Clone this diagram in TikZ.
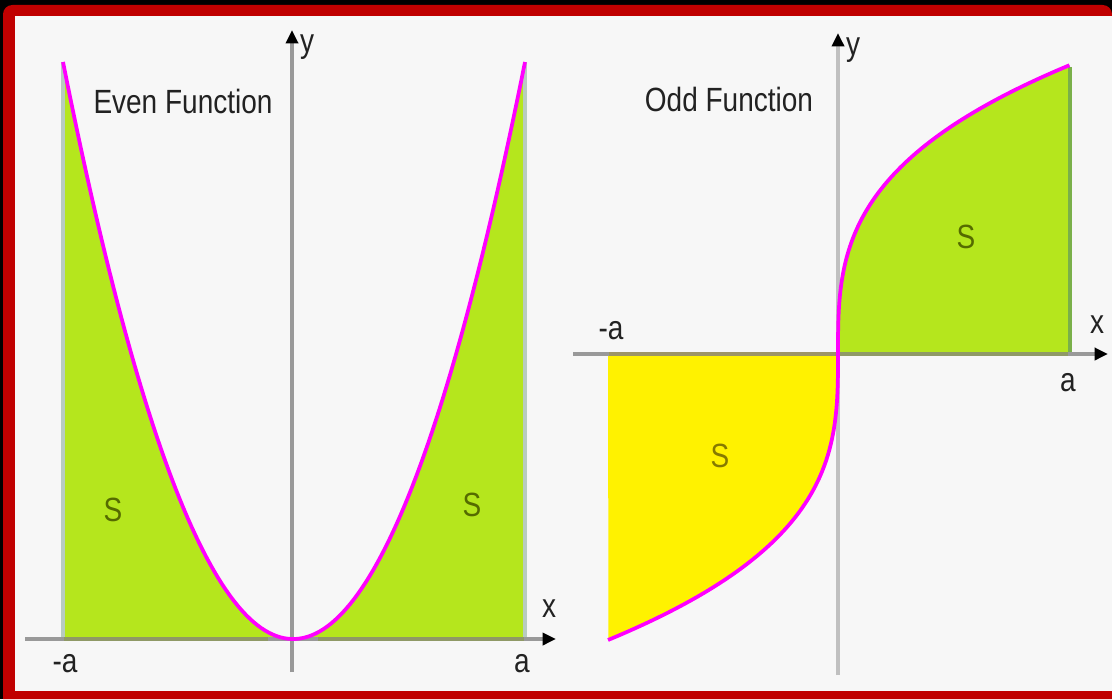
\documentclass[tikz,border=0pt]{standalone}
\usepackage{fontspec}
\setmainfont{Liberation Sans}
\usepackage{graphicx}
\usetikzlibrary{arrows.meta}
\definecolor{bgc}{HTML}{F7F7F7}
\definecolor{redb}{HTML}{C00000}
\definecolor{grn}{HTML}{B5E61D}
\definecolor{ylw}{HTML}{FFF200}
\definecolor{mag}{HTML}{FF00FF}
\definecolor{axg}{HTML}{999999}
\definecolor{axl}{HTML}{C0C0C0}
\definecolor{edgeg}{HTML}{B8CCC0}
\definecolor{edgegr}{HTML}{7AB04A}
\definecolor{olv}{HTML}{8F9966}
\definecolor{olvy}{HTML}{9D9566}
\definecolor{txt}{HTML}{222222}
\definecolor{sgrn}{HTML}{556B00}
\definecolor{sylw}{HTML}{857A00}
\newcommand{\lbl}[1]{\scalebox{1}[1.2]{#1}}
\tikzset{
  axisline/.style={line width=3pt, draw=axg, -{Triangle[length=10pt,width=9pt,color=black]}},
  axislight/.style={line width=3.4pt, draw=axl, -{Triangle[length=10pt,width=9pt,color=black]}},
  curve/.style={line width=2.8pt, draw=mag, line join=round},
  lab/.style={inner sep=0pt, text=txt, font=\fontsize{21}{25}\selectfont},
  slab/.style={lab, text=sgrn},
  sylab/.style={lab, text=sylw},
}
\begin{document}
\begin{tikzpicture}[x=0.75pt,y=-0.75pt]
\useasboundingbox (0,0) rectangle (1112,699);
% frame
\fill[black] (0,0) rectangle (1112,699);
\fill[redb] {[rounded corners=7] (3,699) |- (1112,5)} -- (1112,699) -- cycle;
\fill[bgc] (15,16) rectangle (1112,691);

% ---------- Even function ----------
\coordinate (eO) at (292,639);
\coordinate (eXs) at (25,639);
\coordinate (eXe) at (556,639);
\coordinate (eYs) at (292,672);
\coordinate (eYe) at (292,30);
\fill[grn] (63,639) -- plot[domain=63:292,samples=60] (\x,{639-577*((293-\x)/230)^2}) -- cycle;
\fill[grn] (292,639) -- plot[domain=292:525,samples=60] (\x,{639-577*((\x-293)/232)^2}) -- (525,639) -- cycle;
\draw[line width=2.4pt, edgeg] (63,639) -- (63,62);
\draw[line width=2.4pt, edgeg] (525,639) -- (525,62);
\draw[axisline] (eXs) -- (eXe);
\draw[line width=3pt, olv] (64,639) -- (268,639);
\draw[line width=3pt, olv] (318,639) -- (524,639);
\draw[axisline] (eYs) -- (eYe);
\draw[curve] plot[domain=63:525,samples=120] (\x,{639-577*((\x-293)/(\x<293?230:232))^2});

\node[lab] (evenT) at (183,101) {\lbl{Even Function}};
\node[lab] (ey) at (307,47) {\lbl{y}};
\node[lab] (ex) at (549,609) {\lbl{x}};
\node[lab] (ema) at (65,664) {\lbl{-a}};
\node[lab] (ea) at (522,664) {\lbl{a}};
\node[slab] (eS1) at (113,510) {\lbl{S}};
\node[slab] (eS2) at (472,505) {\lbl{S}};

% ---------- Odd function ----------
\coordinate (oO) at (838,354);
\coordinate (oXs) at (573,354);
\coordinate (oXe) at (1108,354);
\coordinate (oYs) at (838,675);
\coordinate (oYe) at (838,33);
\draw[axislight] (oYs) -- (oYe);
\fill[grn] (838,354) -- plot[domain=0:1,samples=80] ({838+232*\x*\x*\x},{354-289*\x}) -- (1070,354) -- cycle;
\fill[ylw] (838,354) -- plot[domain=0:-1,samples=80] ({838+230*\x*\x*\x},{354-286*\x}) -- (608,354) -- cycle;
\draw[line width=3pt, edgegr] (1070,354) -- (1070,67);
\draw[axisline] (oXs) -- (oXe);
\draw[line width=3pt, olvy] (609,354) -- (836,354);
\draw[line width=3pt, olv] (840,354) -- (1068,354);
\draw[curve] plot[domain=-1:1,samples=160] ({838+(\x<0?230:232)*\x*\x*\x},{354-(\x<0?286:289)*\x});

\node[lab] (oddT) at (729,99) {\lbl{Odd Function}};
\node[lab] (oy) at (853,50) {\lbl{y}};
\node[lab] (ox) at (1097,325) {\lbl{x}};
\node[lab] (oma) at (611,331) {\lbl{-a}};
\node[lab] (oa) at (1068,383) {\lbl{a}};
\node[slab] (oS1) at (966,237) {\lbl{S}};
\node[sylab] (oS2) at (720,456) {\lbl{S}};
\end{tikzpicture}
\end{document}
